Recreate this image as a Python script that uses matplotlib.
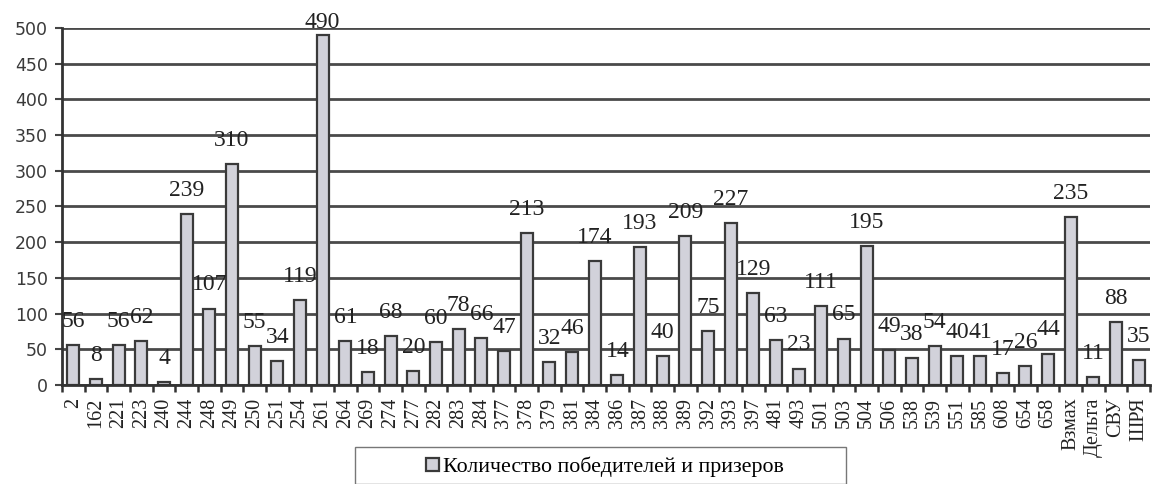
import matplotlib
matplotlib.use("Agg")
import matplotlib.pyplot as plt
from matplotlib.patches import Rectangle
from matplotlib.ticker import FixedLocator
import numpy as np

categories = ["2", "162", "221", "223", "240", "244", "248", "249", "250", "251",
              "254", "261", "264", "269", "274", "277", "282", "283", "284", "377",
              "378", "379", "381", "384", "386", "387", "388", "389", "392", "393",
              "397", "481", "493", "501", "503", "504", "506", "538", "539", "551",
              "585", "608", "654", "658", "Взмах", "Дельта", "СВУ", "ШРЯ"]
values = [56, 8, 56, 62, 4, 239, 107, 310, 55, 34,
          119, 490, 61, 18, 68, 20, 60, 78, 66, 47,
          213, 32, 46, 174, 14, 193, 40, 209, 75, 227,
          129, 63, 23, 111, 65, 195, 49, 38, 54, 40,
          41, 17, 26, 44, 235, 11, 88, 35]
series_name = "Количество победителей и призеров"
y_ticks = [0, 50, 100, 150, 200, 250, 300, 350, 400, 450, 500]

W, H = 1159, 484
fig = plt.figure(figsize=(W / 100, H / 100), dpi=100)
ax_h_px = 385 - 28
ax = fig.add_axes([62 / W, 1 - 385 / H, (1150 - 62) / W, ax_h_px / H])

x = np.arange(len(categories))
bars = ax.bar(x, values, width=0.52, color="#d2d2da", edgecolor="#3a3a3a",
              linewidth=1.6, zorder=3, label=series_name)

ymax = 500
ax.set_xlim(-0.5, len(categories) - 0.5)
ax.set_ylim(0, ymax)
ax.set_yticks(y_ticks)
ax.yaxis.grid(True, color="#4a4a4a", linewidth=2.0, zorder=0)
ax.set_axisbelow(True)
for lbl in ax.get_yticklabels():
    lbl.set_fontfamily("DejaVu Sans")
    lbl.set_fontsize(12.5)
    lbl.set_color("#3a3a3a")
ax.tick_params(axis="y", length=5, width=1.5, color="#444444", pad=5)

ax.set_xticks(x)
ax.set_xticklabels(categories, rotation=90, fontfamily="Liberation Serif",
                   fontsize=14.5, color="#222222")
ax.tick_params(axis="x", which="major", length=0, pad=9)
ax.xaxis.set_minor_locator(FixedLocator(np.arange(-0.5, len(categories), 1.0)))
ax.tick_params(axis="x", which="minor", length=5, width=1.8, color="#333333")

for s in ["top", "right"]:
    ax.spines[s].set_visible(False)
for s in ["left", "bottom"]:
    ax.spines[s].set_color("#333333")
    ax.spines[s].set_linewidth(2.0)
    ax.spines[s].set_zorder(4)

for xi, v in zip(x, values):
    # keep labels near the plot area top (like the spreadsheet did)
    room_pt = (ymax - v) / ymax * ax_h_px * 0.72 + 4
    off = min(17, room_pt)
    ax.annotate(str(v), (xi, v), xytext=(0, off), textcoords="offset points",
                ha="center", va="center", fontfamily="Liberation Serif",
                fontsize=17, color="#222222", zorder=5, annotation_clip=False)

fig.patches.append(Rectangle((355 / W, 0), (846 - 355) / W, (484 - 447) / H,
                             transform=fig.transFigure, fill=False,
                             edgecolor="#777777", linewidth=1.0))
leg = fig.legend(handles=[bars], labels=[series_name], loc="center",
                 bbox_to_anchor=(605 / W, 1 - 467 / H), frameon=False,
                 prop={"family": "Liberation Serif", "size": 15.8},
                 handlelength=0.6, handleheight=0.6, handletextpad=0.2)

fig.savefig("out.png", dpi=100)
